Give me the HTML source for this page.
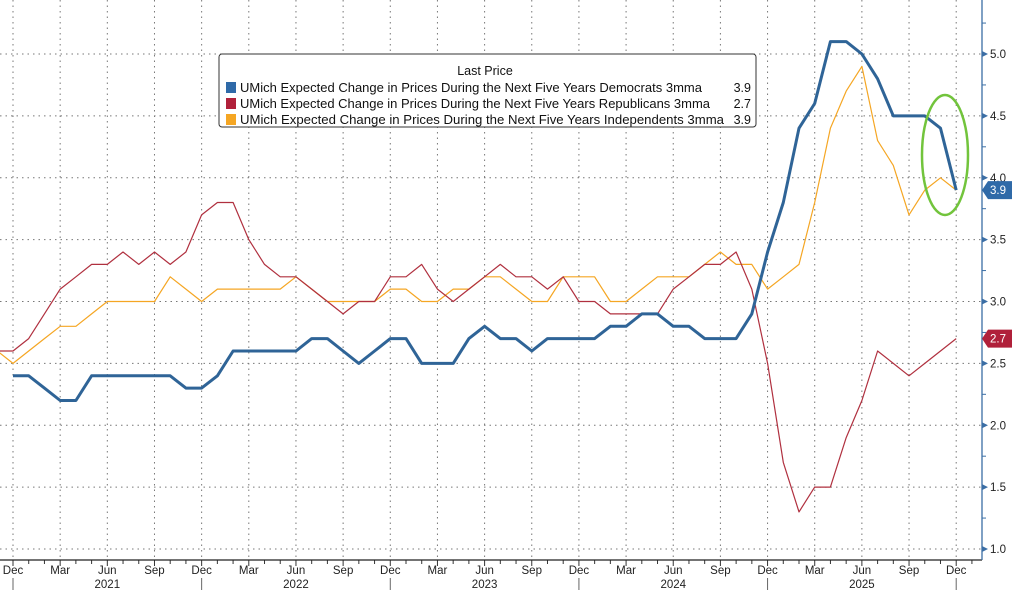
<!DOCTYPE html>
<html><head><meta charset="utf-8"><style>
body{margin:0;background:#fff;}
svg{display:block;font-family:"Liberation Sans","DejaVu Sans",sans-serif;}
</style></head><body>
<svg id="c" width="1012" height="590" viewBox="0 0 1012 590" xmlns="http://www.w3.org/2000/svg"></svg>
<script>
const s=document.getElementById('c');let h='';
const X=m=>13+15.72*m, Y=v=>54+(5-v)*123.75;
for(let v=1;v<=5.01;v+=0.5){h+=`<line x1="0" x2="982" y1="${Y(v)}" y2="${Y(v)}" stroke="#777" stroke-dasharray="1.5,4" stroke-width="1"/>`;}
const mn=['Dec','Mar','Jun','Sep'];
for(let m=0;m<=61;m++){const x=X(m);
 h+=`<line x1="${x}" x2="${x}" y1="560" y2="${m%3==0?566:564}" stroke="#333"/>`;
 if(m%3==0){h+=`<line x1="${x}" x2="${x}" y1="0" y2="560" stroke="#777" stroke-dasharray="1.5,4"/>`;
  h+=`<text x="${x}" y="574" font-size="11.5" text-anchor="middle" fill="#222">${mn[(m/3)%4]}</text>`;}
 if(m%12==0){h+=`<line x1="${x}" x2="${x}" y1="578" y2="590" stroke="#666"/>`;}
 if(m%12==6){h+=`<text x="${x}" y="588" font-size="11.5" text-anchor="middle" fill="#222">${2021+(m-6)/12}</text>`;}
}
h+=`<line x1="0" x2="982" y1="560" y2="560" stroke="#222" stroke-width="1.2"/>`;
h+=`<line x1="982" x2="982" y1="0" y2="560" stroke="#3b6ea5" stroke-width="1.3"/>`;
for(let v=1;v<=5.3;v+=0.25){const y=Y(v);
 if(Math.round(v*4)%2==0){h+=`<polygon points="982,${y-3} 988,${y} 982,${y+3}" fill="#3b6ea5"/><text x="990" y="${y+4}" font-size="11.5" fill="#222">${v.toFixed(1)}</text>`;}
 else h+=`<line x1="982" x2="986" y1="${y}" y2="${y}" stroke="#3b6ea5"/>`;}
const D=[2.4,2.4,2.3,2.2,2.2,2.4,2.4,2.4,2.4,2.4,2.4,2.3,2.3,2.4,2.6,2.6,2.6,2.6,2.6,2.7,2.7,2.6,2.5,2.6,2.7,2.7,2.5,2.5,2.5,2.7,2.8,2.7,2.7,2.6,2.7,2.7,2.7,2.7,2.8,2.8,2.9,2.9,2.8,2.8,2.7,2.7,2.7,2.9,3.4,3.8,4.4,4.6,5.1,5.1,5.0,4.8,4.5,4.5,4.5,4.4,3.9];
const R=[2.6,2.6,2.7,2.9,3.1,3.2,3.3,3.3,3.4,3.3,3.4,3.3,3.4,3.7,3.8,3.8,3.5,3.3,3.2,3.2,3.1,3.0,2.9,3.0,3.0,3.2,3.2,3.3,3.1,3.0,3.1,3.2,3.3,3.2,3.2,3.1,3.2,3.0,3.0,2.9,2.9,2.9,2.9,3.1,3.2,3.3,3.3,3.4,3.1,2.5,1.7,1.3,1.5,1.5,1.9,2.2,2.6,2.5,2.4,2.5,2.6,2.7];
const I=[2.6,2.5,2.6,2.7,2.8,2.8,2.9,3.0,3.0,3.0,3.0,3.2,3.1,3.0,3.1,3.1,3.1,3.1,3.1,3.2,3.1,3.0,3.0,3.0,3.0,3.1,3.1,3.0,3.0,3.1,3.1,3.2,3.2,3.1,3.0,3.0,3.2,3.2,3.2,3.0,3.0,3.1,3.2,3.2,3.2,3.3,3.4,3.3,3.3,3.1,3.2,3.3,3.8,4.4,4.7,4.9,4.3,4.1,3.7,3.9,4.0,3.9];
function path(a,col,w){let p=a.map((v,i)=>`${(i?'L':'M')}${X(i-(a.length-61)).toFixed(1)},${Y(v).toFixed(1)}`).join(' ');
 return `<path d="${p}" fill="none" stroke="${col}" stroke-width="${w}" stroke-linejoin="round"/>`;}
h+=path(I,'#f5a623',1.2);
h+=path(R,'#b0303f',1.2);
h+=path(D,'#2f6497',3);
h+=`<ellipse cx="945" cy="155" rx="23" ry="60" fill="none" stroke="#72c43c" stroke-width="2.5"/>`;
h+=`<polygon points="982,${Y(3.9)} 988,${Y(3.9)-9} 1012,${Y(3.9)-9} 1012,${Y(3.9)+9} 988,${Y(3.9)+9}" fill="#2f6aa8"/><text x="990" y="${Y(3.9)+4}" font-size="11.5" fill="#fff">3.9</text>`;
h+=`<polygon points="982,${Y(2.7)} 988,${Y(2.7)-9} 1012,${Y(2.7)-9} 1012,${Y(2.7)+9} 988,${Y(2.7)+9}" fill="#b0203a"/><text x="990" y="${Y(2.7)+4}" font-size="11.5" fill="#fff">2.7</text>`;
h+=`<rect x="219" y="54" width="537" height="73" rx="3" fill="#fff" stroke="#333" stroke-width="1"/>`;
h+=`<text x="485" y="75" font-size="12.5" text-anchor="middle" fill="#111">Last Price</text>`;
const L=[['#2f6aa8','Democrats 3mma','3.9',462],['#b0203a','Republicans 3mma','2.7',470],['#f5a623','Independents 3mma','3.9',484]];
L.forEach((l,i)=>{const y=82+i*16;h+=`<rect x="226" y="${y}" width="10" height="11" fill="${l[0]}"/><text x="240" y="${y+10}" font-size="12.5" fill="#111" textLength="${l[3]}" lengthAdjust="spacingAndGlyphs">UMich Expected Change in Prices During the Next Five Years ${l[1]}</text><text x="751" y="${y+10}" font-size="12.5" text-anchor="end" fill="#111">${l[2]}</text>`;});
s.innerHTML=h;
</script>
</body></html>
